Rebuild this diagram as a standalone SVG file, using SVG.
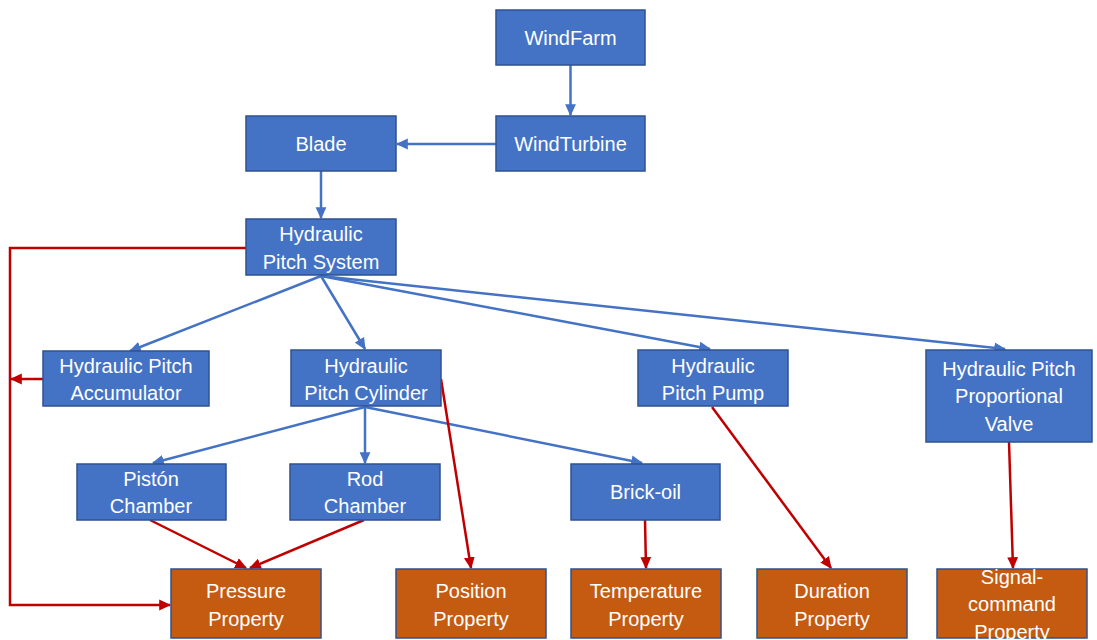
<svg xmlns="http://www.w3.org/2000/svg" width="1097" height="640" viewBox="0 0 1097 640">
<style>
.b{fill:#4472C4;stroke:#2F528F;stroke-width:1.5}
.o{fill:#C55A11;stroke:#2F528F;stroke-width:1.5}
text{font-family:"Liberation Sans",Arial,sans-serif;font-size:20px;fill:#fff;text-anchor:middle}
.lb{stroke:#4472C4;stroke-width:2.5;fill:none;marker-end:url(#ab)}
.lr{stroke:#C00000;stroke-width:2.5;fill:none;marker-end:url(#ar)}
.lr0{stroke:#C00000;stroke-width:2.5;fill:none}
</style>
<defs>
<marker id="ab" markerUnits="userSpaceOnUse" markerWidth="12" markerHeight="12" viewBox="0 0 10 10" refX="9" refY="5" orient="auto"><path d="M0,0.5 L10,5 L0,9.5 z" fill="#4472C4"/></marker>
<marker id="ar" markerUnits="userSpaceOnUse" markerWidth="12" markerHeight="12" viewBox="0 0 10 10" refX="9" refY="5" orient="auto"><path d="M0,0.5 L10,5 L0,9.5 z" fill="#C00000"/></marker>
</defs>
<rect width="1097" height="640" fill="#fff"/>
<g id="connectors">
<line class="lb" x1="570.5" y1="65" x2="570.5" y2="115"/>
<line class="lb" x1="496" y1="144" x2="397" y2="144"/>
<line class="lb" x1="321" y1="171" x2="321" y2="218"/>
<line class="lb" x1="321" y1="276" x2="130" y2="351"/>
<line class="lb" x1="321" y1="276" x2="365" y2="349"/>
<line class="lb" x1="321" y1="276" x2="710" y2="349"/>
<line class="lb" x1="321" y1="276" x2="1005" y2="349"/>
<line class="lb" x1="365" y1="407" x2="153" y2="463"/>
<line class="lb" x1="365" y1="407" x2="365" y2="463"/>
<line class="lb" x1="365" y1="407" x2="642" y2="463"/>
<polyline class="lr" points="246,248 10,248 10,605 170,605"/>
<line class="lr" x1="43" y1="379" x2="11" y2="379"/>
<line class="lr" x1="150" y1="520" x2="246" y2="568"/>
<line class="lr" x1="364" y1="520" x2="250" y2="568"/>
<line class="lr" x1="441" y1="379" x2="471" y2="568"/>
<line class="lr" x1="645" y1="520" x2="646" y2="568"/>
<line class="lr" x1="712" y1="407" x2="831" y2="568"/>
<line class="lr" x1="1009" y1="442" x2="1013" y2="568"/>
</g>
<g id="windfarm"><rect class="b" x="496" y="10" width="149" height="55"/><text x="570.5" y="45">WindFarm</text></g>
<g id="windturbine"><rect class="b" x="496" y="116" width="149" height="55"/><text x="570.5" y="151">WindTurbine</text></g>
<g id="blade"><rect class="b" x="246" y="116" width="150" height="55"/><text x="321" y="151">Blade</text></g>
<g id="hps"><rect class="b" x="246" y="219" width="150" height="56"/><text x="321" y="241">Hydraulic</text><text x="321" y="269">Pitch System</text></g>
<g id="accumulator"><rect class="b" x="43" y="351" width="166" height="55"/><text x="126" y="373">Hydraulic Pitch</text><text x="126" y="400">Accumulator</text></g>
<g id="cylinder"><rect class="b" x="291" y="350" width="150" height="56"/><text x="366" y="373">Hydraulic</text><text x="366" y="400">Pitch Cylinder</text></g>
<g id="pump"><rect class="b" x="638" y="350" width="150" height="56"/><text x="713" y="373">Hydraulic</text><text x="713" y="400">Pitch Pump</text></g>
<g id="valve"><rect class="b" x="926" y="350" width="166" height="92"/><text x="1009" y="376">Hydraulic Pitch</text><text x="1009" y="403">Proportional</text><text x="1009" y="431">Valve</text></g>
<g id="piston"><rect class="b" x="77" y="464" width="149" height="56"/><text x="151" y="486">Pistón</text><text x="151" y="513">Chamber</text></g>
<g id="rod"><rect class="b" x="290" y="464" width="150" height="56"/><text x="365" y="486">Rod</text><text x="365" y="513">Chamber</text></g>
<g id="brickoil"><rect class="b" x="571" y="464" width="149" height="56"/><text x="645.5" y="499">Brick-oil</text></g>
<g id="pressure"><rect class="o" x="171" y="569" width="150" height="69"/><text x="246" y="598">Pressure</text><text x="246" y="626">Property</text></g>
<g id="position"><rect class="o" x="396" y="569" width="150" height="69"/><text x="471" y="598">Position</text><text x="471" y="626">Property</text></g>
<g id="temperature"><rect class="o" x="571" y="569" width="150" height="69"/><text x="646" y="598">Temperature</text><text x="646" y="626">Property</text></g>
<g id="duration"><rect class="o" x="757" y="569" width="150" height="69"/><text x="832" y="598">Duration</text><text x="832" y="626">Property</text></g>
<g id="signal"><rect class="o" x="937" y="569" width="150" height="69"/><text x="1012" y="584">Signal-</text><text x="1012" y="611">command</text><text x="1012" y="639">Property</text></g>
</svg>
